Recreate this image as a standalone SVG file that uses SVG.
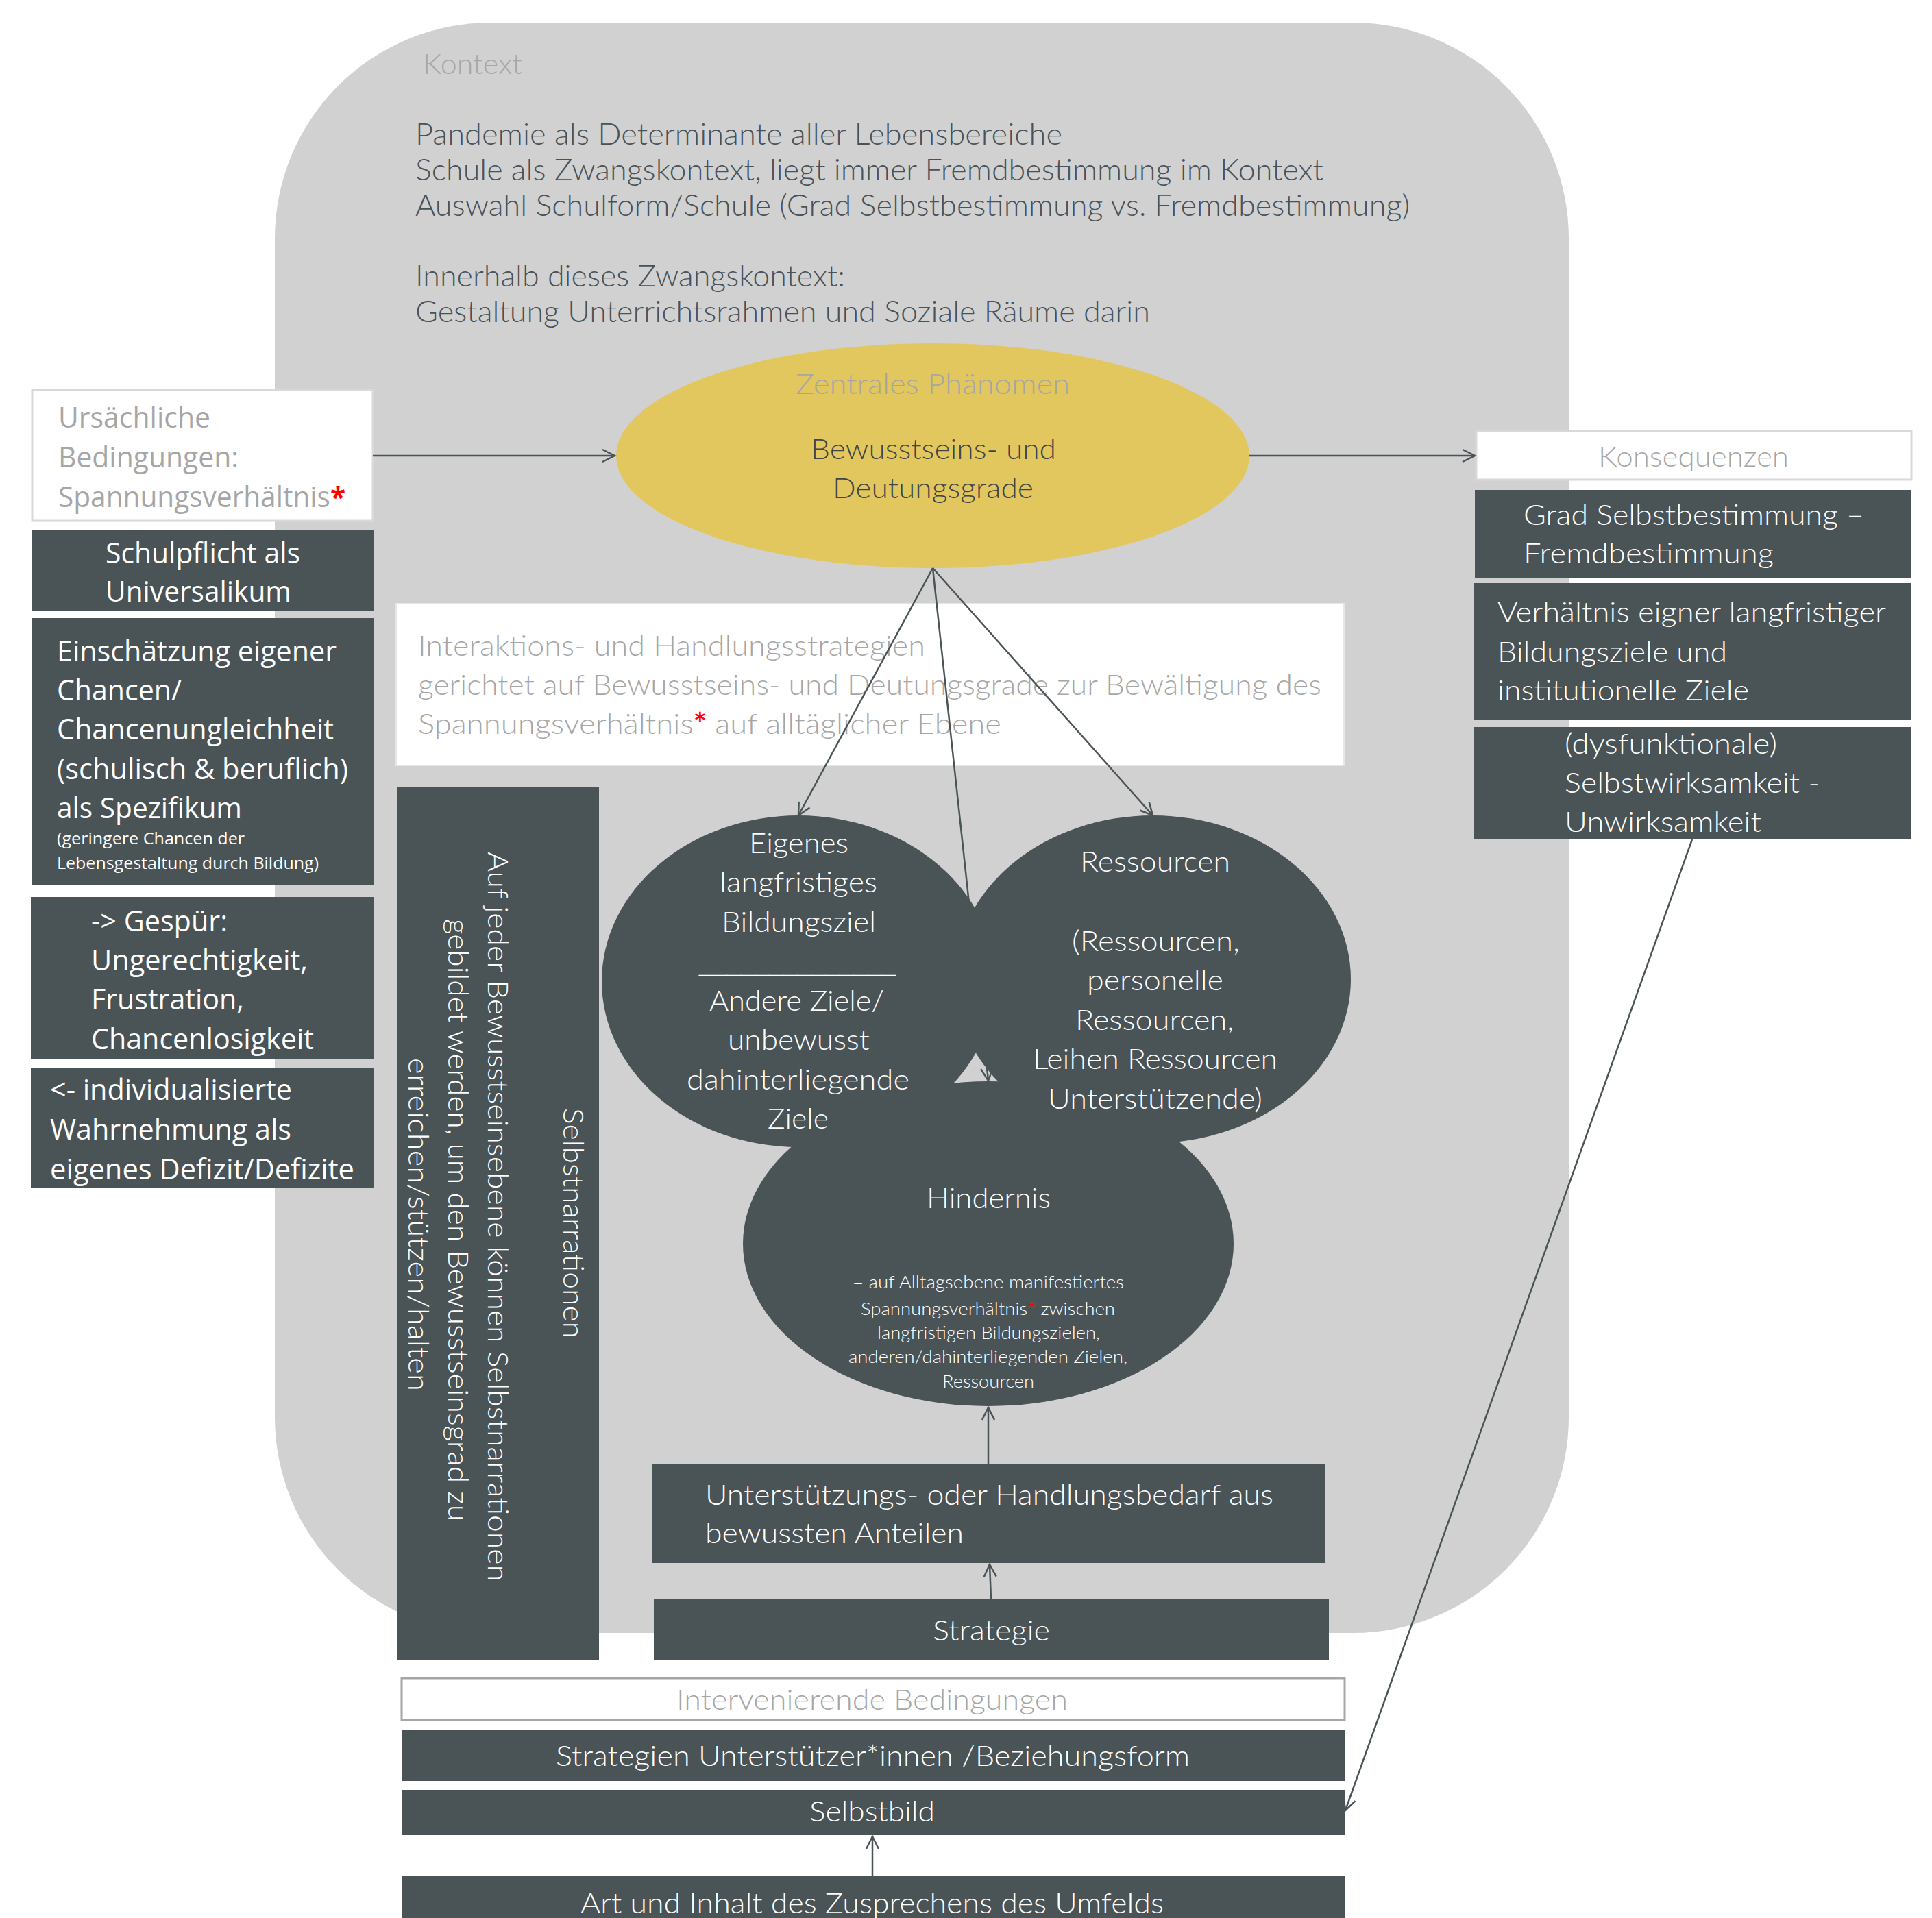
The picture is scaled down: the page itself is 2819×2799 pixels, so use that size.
<svg xmlns="http://www.w3.org/2000/svg" width="2819" height="2799" viewBox="0 0 2819 2799">
<style>
.dk{fill:#4A5356}
.wt{fill:#FFFFFF;stroke:#D9D9D9;stroke-width:3}
.l{font-family:Lato,"Open Sans","Liberation Sans",sans-serif;font-weight:300;font-size:42px}
.o{font-family:"Open Sans","Noto Sans","Liberation Sans",sans-serif;font-size:42px}
.w{fill:#FFFFFF}
.g{fill:#A6A6A6}
.d{fill:#48525A}
.r{fill:#FF0000;font-weight:700}
.sm{font-size:25px}
.conn{stroke:#4A5356;stroke-width:2.5;fill:none}
</style>
<defs>
<marker id="ah" markerUnits="userSpaceOnUse" markerWidth="24" markerHeight="24" viewBox="0 0 24 24" refX="21" refY="12" orient="auto">
<path d="M3,3 L21,12 L3,21" fill="none" stroke="#4A5356" stroke-width="2.5"/>
</marker>
</defs>
<rect width="2819" height="2799" fill="#FFFFFF"/>

<g id="kontext">
<rect x="401" y="33" width="1888" height="2350" rx="315" ry="315" fill="#D1D1D1"/>
<text class="l g" x="617" y="108" font-size="42" textLength="145" lengthAdjust="spacingAndGlyphs">Kontext</text>
<text class="l d" x="606" y="211" style="font-size:44px" textLength="944" lengthAdjust="spacingAndGlyphs">Pandemie als Determinante aller Lebensbereiche</text>
<text class="l d" x="606" y="263" style="font-size:44px" textLength="1325" lengthAdjust="spacingAndGlyphs">Schule als Zwangskontext, liegt immer Fremdbestimmung im Kontext</text>
<text class="l d" x="606" y="315" style="font-size:44px" textLength="1451" lengthAdjust="spacingAndGlyphs">Auswahl Schulform/Schule (Grad Selbstbestimmung vs. Fremdbestimmung)</text>
<text class="l d" x="606" y="418" style="font-size:44px" textLength="627" lengthAdjust="spacingAndGlyphs">Innerhalb dieses Zwangskontext:</text>
<text class="l d" x="606" y="470" style="font-size:44px" textLength="1072" lengthAdjust="spacingAndGlyphs">Gestaltung Unterrichtsrahmen und Soziale Räume darin</text>
</g>

<g id="phaenomen">
<ellipse cx="1361" cy="665" rx="462" ry="164" fill="#E2C75E"/>
<text class="l g" x="1161" y="575" textLength="400" lengthAdjust="spacingAndGlyphs">Zentrales Phänomen</text>
<text class="l" fill="#3F4548" x="1183" y="670" textLength="358" lengthAdjust="spacingAndGlyphs">Bewusstseins- und</text>
<text class="l" fill="#3F4548" x="1215" y="727" textLength="293" lengthAdjust="spacingAndGlyphs">Deutungsgrade</text>
</g>

<g id="ursaechliche">
<rect class="wt" x="47" y="569" width="497" height="191"/>
<text class="o g" x="85" y="624" textLength="222" lengthAdjust="spacingAndGlyphs">Ursächliche</text>
<text class="o g" x="85" y="682" textLength="263" lengthAdjust="spacingAndGlyphs">Bedingungen:</text>
<text class="o g" x="85" y="740" textLength="419" lengthAdjust="spacingAndGlyphs">Spannungsverhältnis<tspan class="r">*</tspan></text>
</g>

<g id="schulpflicht">
<rect class="dk" x="46" y="773" width="500" height="119"/>
<text class="o w" x="154" y="822" textLength="284" lengthAdjust="spacingAndGlyphs">Schulpflicht als</text>
<text class="o w" x="154" y="878" textLength="271" lengthAdjust="spacingAndGlyphs">Universalikum</text>
</g>

<g id="einschaetzung">
<rect class="dk" x="46" y="902" width="500" height="389"/>
<text class="o w" x="83" y="965" textLength="408" lengthAdjust="spacingAndGlyphs">Einschätzung eigener</text>
<text class="o w" x="83" y="1022" textLength="182" lengthAdjust="spacingAndGlyphs">Chancen/</text>
<text class="o w" x="83" y="1079" textLength="404" lengthAdjust="spacingAndGlyphs">Chancenungleichheit</text>
<text class="o w" x="83" y="1137" textLength="425" lengthAdjust="spacingAndGlyphs">(schulisch &amp; beruflich)</text>
<text class="o w" x="83" y="1194" textLength="270" lengthAdjust="spacingAndGlyphs">als Spezifikum</text>
<text class="o w" x="83" y="1232" style="font-size:24px" textLength="274" lengthAdjust="spacingAndGlyphs">(geringere Chancen der</text>
<text class="o w" x="83" y="1268" style="font-size:24px" textLength="382" lengthAdjust="spacingAndGlyphs">Lebensgestaltung durch Bildung)</text>
</g>

<g id="gespuer">
<rect class="dk" x="45" y="1309" width="500" height="237"/>
<text class="o w" x="133" y="1359" textLength="199" lengthAdjust="spacingAndGlyphs">-&gt; Gespür:</text>
<text class="o w" x="133" y="1416" textLength="316" lengthAdjust="spacingAndGlyphs">Ungerechtigkeit,</text>
<text class="o w" x="133" y="1473" textLength="223" lengthAdjust="spacingAndGlyphs">Frustration,</text>
<text class="o w" x="133" y="1531" textLength="325" lengthAdjust="spacingAndGlyphs">Chancenlosigkeit</text>
</g>

<g id="individualisiert">
<rect class="dk" x="45" y="1558" width="500" height="176"/>
<text class="o w" x="73" y="1605" textLength="353" lengthAdjust="spacingAndGlyphs">&lt;- individualisierte</text>
<text class="o w" x="73" y="1663" textLength="352" lengthAdjust="spacingAndGlyphs">Wahrnehmung als</text>
<text class="o w" x="73" y="1721" textLength="444" lengthAdjust="spacingAndGlyphs">eigenes Defizit/Defizite</text>
</g>

<g id="konsequenzen">
<rect class="wt" x="2154" y="629" width="635" height="71"/>
<text class="l g" x="2332" y="681" textLength="278" lengthAdjust="spacingAndGlyphs">Konsequenzen</text>
</g>

<g id="grad">
<rect class="dk" x="2152" y="715" width="637" height="129"/>
<text class="l w" x="2223" y="766" textLength="497" lengthAdjust="spacingAndGlyphs">Grad Selbstbestimmung –</text>
<text class="l w" x="2223" y="822" textLength="365" lengthAdjust="spacingAndGlyphs">Fremdbestimmung</text>
</g>

<g id="verhaeltnis">
<rect class="dk" x="2150" y="851" width="638" height="199"/>
<text class="l w" x="2185" y="908" textLength="567" lengthAdjust="spacingAndGlyphs">Verhältnis eigner langfristiger</text>
<text class="l w" x="2185" y="966" textLength="335" lengthAdjust="spacingAndGlyphs">Bildungsziele und</text>
<text class="l w" x="2185" y="1022" textLength="367" lengthAdjust="spacingAndGlyphs">institutionelle Ziele</text>
</g>

<g id="selbstwirksamkeit">
<rect class="dk" x="2150" y="1061" width="638" height="164"/>
<text class="l w" x="2283" y="1100" textLength="310" lengthAdjust="spacingAndGlyphs">(dysfunktionale)</text>
<text class="l w" x="2283" y="1157" textLength="372" lengthAdjust="spacingAndGlyphs">Selbstwirksamkeit -</text>
<text class="l w" x="2283" y="1214" textLength="287" lengthAdjust="spacingAndGlyphs">Unwirksamkeit</text>
</g>

<g id="interaktion">
<rect x="578" y="881" width="1383" height="236" fill="#FFFFFF" stroke="#E6E6E6" stroke-width="2"/>
<text class="l g" x="610" y="957" textLength="740" lengthAdjust="spacingAndGlyphs">Interaktions- und Handlungsstrategien</text>
<text class="l g" x="610" y="1014" textLength="1318" lengthAdjust="spacingAndGlyphs">gerichtet auf Bewusstseins- und Deutungsgrade zur Bewältigung des</text>
<text class="l g" x="610" y="1071" textLength="851" lengthAdjust="spacingAndGlyphs">Spannungsverhältnis<tspan class="r">*</tspan> auf alltäglicher Ebene</text>
</g>

<g id="selbstnarrationen">
<rect class="dk" x="579" y="1149" width="295" height="1273"/>
<text class="l w" transform="translate(822,1617) rotate(90)" textLength="336" lengthAdjust="spacingAndGlyphs">Selbstnarrationen</text>
<text class="l w" transform="translate(712,1243) rotate(90)" textLength="1065" lengthAdjust="spacingAndGlyphs">Auf jeder Bewusstseinsebene können Selbstnarrationen</text>
<text class="l w" transform="translate(654,1341) rotate(90)" textLength="879" lengthAdjust="spacingAndGlyphs">gebildet werden, um den Bewusstseinsgrad zu</text>
<text class="l w" transform="translate(596,1544) rotate(90)" textLength="486" lengthAdjust="spacingAndGlyphs">erreichen/stützen/halten</text>
</g>

<g id="hindernis">
<ellipse class="dk" cx="1442" cy="1815" rx="358" ry="237"/>
</g>
<g id="eigenes">
<ellipse class="dk" cx="1165" cy="1432" rx="287" ry="242"/>
</g>
<g id="ressourcen">
<ellipse class="dk" cx="1682" cy="1429" rx="289" ry="239"/>
</g>
<g id="kreis-texte">
<text class="l w" x="1093" y="1245" textLength="145" lengthAdjust="spacingAndGlyphs">Eigenes</text>
<text class="l w" x="1050" y="1302" textLength="230" lengthAdjust="spacingAndGlyphs">langfristiges</text>
<text class="l w" x="1053" y="1360" textLength="225" lengthAdjust="spacingAndGlyphs">Bildungsziel</text>
<text class="w" x="1020" y="1418" style="font-family:'Liberation Sans',Arial,sans-serif;font-size:36px" textLength="287" lengthAdjust="spacingAndGlyphs">______________</text>
<text class="l w" x="1035" y="1475" textLength="255" lengthAdjust="spacingAndGlyphs">Andere Ziele/</text>
<text class="l w" x="1062" y="1532" textLength="207" lengthAdjust="spacingAndGlyphs">unbewusst</text>
<text class="l w" x="1002" y="1590" textLength="325" lengthAdjust="spacingAndGlyphs">dahinterliegende</text>
<text class="l w" x="1120" y="1647" textLength="89" lengthAdjust="spacingAndGlyphs">Ziele</text>

<text class="l w" x="1576" y="1272" textLength="219" lengthAdjust="spacingAndGlyphs">Ressourcen</text>
<text class="l w" x="1564" y="1388" textLength="245" lengthAdjust="spacingAndGlyphs">(Ressourcen,</text>
<text class="l w" x="1586" y="1445" textLength="199" lengthAdjust="spacingAndGlyphs">personelle</text>
<text class="l w" x="1569" y="1503" textLength="231" lengthAdjust="spacingAndGlyphs">Ressourcen,</text>
<text class="l w" x="1507" y="1560" textLength="357" lengthAdjust="spacingAndGlyphs">Leihen Ressourcen</text>
<text class="l w" x="1529" y="1618" textLength="313" lengthAdjust="spacingAndGlyphs">Unterstützende)</text>

<text class="l w" x="1352" y="1763" textLength="181" lengthAdjust="spacingAndGlyphs">Hindernis</text>
<text class="l w sm" x="1244" y="1880" textLength="396" lengthAdjust="spacingAndGlyphs">=  auf Alltagsebene manifestiertes</text>
<text class="l w sm" x="1256" y="1919" textLength="371" lengthAdjust="spacingAndGlyphs">Spannungsverhältnis<tspan class="r">*</tspan> zwischen</text>
<text class="l w sm" x="1280" y="1954" textLength="325" lengthAdjust="spacingAndGlyphs">langfristigen Bildungszielen,</text>
<text class="l w sm" x="1238" y="1989" textLength="407" lengthAdjust="spacingAndGlyphs">anderen/dahinterliegenden Zielen,</text>
<text class="l w sm" x="1375" y="2025" textLength="134" lengthAdjust="spacingAndGlyphs">Ressourcen</text>
</g>

<g id="unterstuetzungsbedarf">
<rect class="dk" x="952" y="2137" width="982" height="144"/>
<text class="l w" x="1029" y="2196" textLength="829" lengthAdjust="spacingAndGlyphs">Unterstützungs- oder Handlungsbedarf aus</text>
<text class="l w" x="1029" y="2252" textLength="377" lengthAdjust="spacingAndGlyphs">bewussten Anteilen</text>
</g>

<g id="strategie">
<rect class="dk" x="954" y="2333" width="985" height="89"/>
<text class="l w" x="1361" y="2394" textLength="171" lengthAdjust="spacingAndGlyphs">Strategie</text>
</g>

<g id="intervenierende">
<rect x="586" y="2449" width="1376" height="61" fill="#FFFFFF" stroke="#A6A6A6" stroke-width="3"/>
<text class="l g" x="987" y="2495" textLength="571" lengthAdjust="spacingAndGlyphs">Intervenierende Bedingungen</text>
</g>

<g id="unterstuetzer">
<rect class="dk" x="586" y="2525" width="1376" height="74"/>
<text class="l w" x="811" y="2577" textLength="925" lengthAdjust="spacingAndGlyphs">Strategien Unterstützer*innen /Beziehungsform</text>
</g>

<g id="selbstbild">
<rect class="dk" x="586" y="2612" width="1376" height="66"/>
<text class="l w" x="1181" y="2658" textLength="183" lengthAdjust="spacingAndGlyphs">Selbstbild</text>
</g>

<g id="zusprechen">
<rect class="dk" x="586" y="2737" width="1376" height="70"/>
<text class="l w" x="847" y="2792" textLength="851" lengthAdjust="spacingAndGlyphs">Art und Inhalt des Zusprechens des Umfelds</text>
</g>

<g id="connectors">
<path class="conn" d="M544,665 L897,665" marker-end="url(#ah)"/>
<path class="conn" d="M1823,665 L2152,665" marker-end="url(#ah)"/>
<path class="conn" d="M1361,829 L1165,1190" marker-end="url(#ah)" stroke-width="2"/>
<path class="conn" d="M1361,829 L1682,1190" marker-end="url(#ah)" stroke-width="2"/>
<path class="conn" d="M1361,829 L1442,1577" marker-end="url(#ah)" stroke-width="2"/>
<path class="conn" d="M1442,2137 L1442,2054" marker-end="url(#ah)" stroke-width="2"/>
<path class="conn" d="M1446,2333 L1444,2283" marker-end="url(#ah)" stroke-width="2"/>
<path class="conn" d="M1273,2737 L1273,2680" marker-end="url(#ah)" stroke-width="2"/>
<path class="conn" d="M2469,1225 L1963,2642" marker-end="url(#ah)" stroke-width="2"/>
</g>
</svg>
